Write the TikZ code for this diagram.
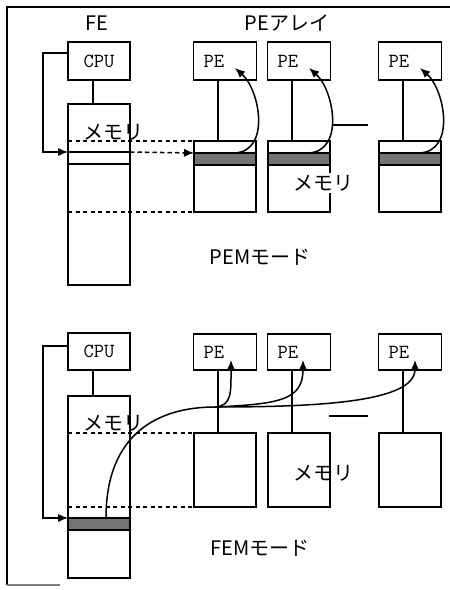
\documentclass[tikz,border=0pt]{standalone}
\usepackage{fontspec}
\newfontfamily\jpfont{Noto Sans CJK JP}
\usetikzlibrary{arrows.meta,calc}
\def\u{0.6pt}
\tikzset{
  box/.style={draw,line width=0.9pt,inner sep=0pt,outer sep=0pt,font=\ttfamily\fontsize{12}{13}\selectfont},
  pebox/.style={box,text width=43*\u,inner xsep=10*\u,align=left,minimum height=38*\u},
  hatch/.style={draw,line width=0.9pt,fill=black!55,inner sep=0pt,outer sep=0pt},
  jp/.style={font=\jpfont\fontsize{12}{14}\selectfont,inner sep=1pt},
  dash line/.style={dashed,dash pattern=on 2.6pt off 1.9pt,line width=0.9pt},
  tip/.style={-{Latex[length=6pt,width=5pt]}}
}
\begin{document}
\begin{tikzpicture}[x=0.6pt,y=-0.6pt,line width=0.9pt]
  \useasboundingbox (0,0) rectangle (450,590);
  \draw (450,7) -- (7,7) -- (7,585);
  \draw[black!50] (7,585) -- (60,585);
  % PEM mode
  \node[jp] (feLbl) at (97,23) {FE};
  \node[jp] (arrLbl) at (287,23) {PEアレイ};
  \node[box,minimum width=62*\u,minimum height=38*\u] (cpuA) at (99,61) {CPU};
  \node[box,minimum width=62*\u,minimum height=181*\u] (memA) at (99,194.5) {};
  \node[box,minimum width=62*\u,minimum height=12*\u] (rowA) at (99,158) {};
  \draw (cpuA.south -| 93,0) -- (memA.north -| 93,0);
  \draw[tip] ($(cpuA.west)+(0,-8)$) -| ($(rowA.north west)+(-25,0)$) -- (rowA.north west);
  \foreach \c/\n in {225/1,299/2,410/3}{
    \node[pebox] (peA\n) at (\c,61) {PE};
    \node[box,minimum width=62*\u,minimum height=71*\u] (pmA\n) at (\c,176.5) {};
    \node[hatch,minimum width=62*\u,minimum height=12*\u] (hatA\n) at (\c,159) {};
    \draw ($(peA\n.south)+(-7,0)$) -- ($(pmA\n.north)+(-7,0)$);
    \draw[tip] ($(hatA\n.north)+(9,0)$) .. controls +(37,-1) and +(25,22) .. ($(peA\n.center)+(10,7)$);
  }
  \draw[dash line] (memA.west |- pmA1.north) -- (pmA1.north west);
  \draw[dash line] (memA.west |- pmA1.south) -- (pmA1.south west);
  \draw[dash line,tip] (rowA.north east) -- (hatA1.north west);
  \draw (332,125) -- (368,125);
  \node[jp] (memLblA) at (113,132) {メモリ};
  \node[jp,fill=white] (pmLblA) at (323,183) {メモリ};
  \node[jp] (modeA) at (260,257) {PEMモード};
  % FEM mode
  \node[box,minimum width=62*\u,minimum height=37*\u] (cpuB) at (99,351.5) {CPU};
  \node[box,minimum width=62*\u,minimum height=182*\u] (memB) at (99,487) {};
  \node[hatch,minimum width=62*\u,minimum height=12*\u] (hatB) at (99,524) {};
  \draw (cpuB.south -| 93,0) -- (memB.north -| 93,0);
  \draw[tip] ($(cpuB.west)+(0,-5.5)$) -| ($(hatB.north west)+(-25,0)$) -- (hatB.north west);
  \foreach \c/\n in {225/1,299/2,410/3}{
    \node[pebox,minimum height=36*\u] (peB\n) at (\c,352) {PE};
    \node[box,minimum width=62*\u,minimum height=74*\u] (pmB\n) at (\c,470) {};
    \draw ($(peB\n.south)+(-7,0)$) -- ($(pmB\n.north)+(-7,0)$);
  }
  \coordinate (bus) at (215,407);
  \draw ($(hatB.north)+(7,0)$) .. controls (106,432) and (160,407) .. (bus);
  \draw[tip] (bus) .. controls (232,406) and (231,392) .. ($(peB1.center)+(6,8)$);
  \draw[tip] (bus) .. controls (280,404) and (303,400) .. ($(peB2.center)+(4,8)$);
  \draw[tip] (bus) .. controls (320,407) and (415,402) .. ($(peB3.center)+(5,8)$);
  \draw[dash line] (memB.west |- pmB1.north) -- (pmB1.north west);
  \draw[dash line] (memB.west |- pmB1.south) -- (pmB1.south west);
  \draw (329,416) -- (368,416);
  \node[jp] (memLblB) at (113,423) {メモリ};
  \node[jp] (pmLblB) at (323,473) {メモリ};
  \node[jp] (modeB) at (260,548) {FEMモード};
\end{tikzpicture}
\end{document}
